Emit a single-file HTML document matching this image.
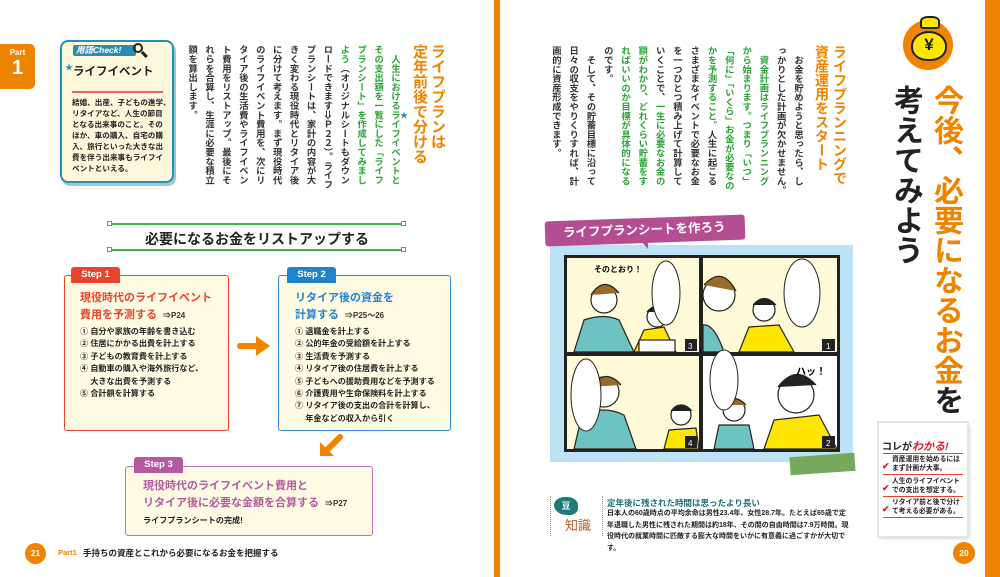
<!DOCTYPE html>
<html><head><meta charset="utf-8"><style>
*{margin:0;padding:0;box-sizing:border-box}
body{width:1000px;height:577px;position:relative;background:#fff;overflow:hidden;font-family:"Liberation Sans","Noto Sans CJK JP",sans-serif;color:#222}
.a{position:absolute}
.v{writing-mode:vertical-rl;white-space:nowrap}
.g{color:#2aa336;font-weight:bold}
.o{color:#ee8400}
.box{position:absolute;background:#fffbe3;border:1.5px solid;border-radius:3px}
.tab{position:absolute;color:#fff;font-size:9.5px;height:16px;line-height:16px;text-align:center;border-radius:3px 3px 0 0;font-weight:bold}
.st{font-weight:bold;font-size:11px;line-height:17px;position:absolute;white-space:nowrap}
.st small{font-size:8px;color:#333;font-weight:bold;margin-left:6px}
.it{position:absolute;font-size:8.1px;line-height:12.4px;font-weight:bold;color:#222;white-space:nowrap}
</style></head><body>
<div class="a" style="left:494px;top:0;width:6px;height:577px;background:#ee8400"></div>
<div class="a" style="left:985px;top:0;width:15px;height:577px;background:#ee8400"></div>
<div class="a" style="left:0;top:44px;width:35px;height:45px;background:#ee8400;border-radius:0 5px 5px 0;color:#fff;text-align:center;font-weight:bold">
<div style="font-size:8px;margin-top:4px">Part</div><div style="font-size:20px;line-height:22px">1</div></div>

<div class="a" style="left:60px;top:40px;width:114px;height:143px;background:#fdf8dc;border:2px solid #2b8db1;border-radius:8px;box-shadow:2px 3px 0 #9cc7d6"></div>
<div class="a" style="left:73px;top:45px;width:63px;height:11px;background:#2b8db1;color:#fff;font-size:8.5px;font-weight:bold;line-height:11px;padding-left:3px;font-style:italic;border-radius:2px">用語Check!</div>
<div class="a" style="left:133px;top:43px;width:10px;height:10px;border:2.5px solid #222;border-radius:50%"></div>
<div class="a" style="left:141px;top:53px;width:7px;height:2.5px;background:#222;transform:rotate(45deg)"></div>
<div class="a" style="left:65px;top:62px;font-size:8px;color:#2b8db1">★</div>
<div class="a" style="left:73px;top:63px;font-size:11.5px;font-weight:bold">ライフイベント</div>
<div class="a" style="left:72px;top:91px;width:91px;height:1.5px;background:#e86060"></div>
<div class="a" style="left:72px;top:97px;font-size:7.6px;line-height:11px;font-weight:bold;white-space:nowrap">結婚、出産、子どもの進学、<br>リタイアなど、人生の節目<br>となる出来事のこと。その<br>ほか、車の購入、自宅の購<br>入、旅行といった大きな出<br>費を伴う出来事もライフイ<br>ベントといえる。</div>

<div class="a v o" style="right:554px;top:44px;font-size:15px;line-height:18px;font-weight:bold">ライフプランは<br>定年前後で分ける</div>
<div class="a" style="left:400px;top:110px;font-size:8px;color:#2b8db1">★</div>
<div class="a v" style="right:597px;top:45px;font-size:9.3px;line-height:16.9px;font-weight:bold;color:#333"><span class="g">　人生におけるライフイベントと<br>その支出額を一覧にした「ライフ<br>プランシート」を作成してみまし<br>よう</span>（オリジナルシートもダウン<br>ロードできます⇒Ｐ２２）。ライフ<br>プランシートは、家計の内容が大<br>きく変わる現役時代とリタイア後<br>に分けて考えます。まず現役時代<br>のライフイベント費用を、次にリ<br>タイア後の生活費やライフイベン<br>ト費用をリストアップ。最後にそ<br>れらを合算し、生涯に必要な積立<br>額を算出します。</div>

<div class="a" style="left:110px;top:223px;width:294px;height:2px;background:#3cb44a"></div>
<div class="a" style="left:110px;top:249px;width:294px;height:2px;background:#3cb44a"></div>
<div class="a" style="left:107px;top:221px;width:5px;height:5px;border:1px solid #3cb44a;background:#fff"></div>
<div class="a" style="left:401px;top:221px;width:5px;height:5px;border:1px solid #3cb44a;background:#fff"></div>
<div class="a" style="left:107px;top:247px;width:5px;height:5px;border:1px solid #3cb44a;background:#fff"></div>
<div class="a" style="left:401px;top:247px;width:5px;height:5px;border:1px solid #3cb44a;background:#fff"></div>
<div class="a" style="left:110px;top:229px;width:294px;text-align:center;font-size:14px;font-weight:bold">必要になるお金をリストアップする</div>

<div class="box" style="left:64px;top:275px;width:165px;height:156px;border-color:#e8452c"></div>
<div class="tab" style="left:71px;top:267px;width:49px;background:#e8452c">Step 1</div>
<div class="st" style="left:80px;top:290px;color:#e8452c">現役時代のライフイベント<br>費用を予測する<small>⇒P24</small></div>
<div class="it" style="left:80px;top:326px">① 自分や家族の年齢を書き込む<br>② 住居にかかる出費を計上する<br>③ 子どもの教育費を計上する<br>④ 自動車の購入や海外旅行など、<br>　 大きな出費を予測する<br>⑤ 合計額を計算する</div>
<div class="a" style="left:237px;top:343px;width:22px;height:6px;background:#ee8400;border-radius:3px"></div>
<div class="a" style="left:256px;top:336px;width:0;height:0;border-left:14px solid #ee8400;border-top:10px solid transparent;border-bottom:10px solid transparent"></div>

<div class="box" style="left:278px;top:275px;width:173px;height:156px;border-color:#2b8fd6"></div>
<div class="tab" style="left:287px;top:267px;width:49px;background:#1f83cf">Step 2</div>
<div class="st" style="left:295px;top:290px;color:#1f83cf">リタイア後の資金を<br>計算する<small>⇒P25～26</small></div>
<div class="it" style="left:295px;top:326px">① 退職金を計上する<br>② 公的年金の受給額を計上する<br>③ 生活費を予測する<br>④ リタイア後の住居費を計上する<br>⑤ 子どもへの援助費用などを予測する<br>⑥ 介護費用や生命保険料を計上する<br>⑦ リタイア後の支出の合計を計算し、<br>　 年金などの収入から引く</div>
<svg class="a" style="left:316px;top:434px" width="28" height="24"><path d="M24 3 L10 17" stroke="#ee8400" stroke-width="6" stroke-linecap="round"/><path d="M4 8 L4 22 L18 22 Z" fill="#ee8400"/></svg>

<div class="box" style="left:125px;top:466px;width:248px;height:70px;border-color:#c872b4"></div>
<div class="tab" style="left:134px;top:457px;width:49px;background:#b55aa0">Step 3</div>
<div class="st" style="left:143px;top:478px;color:#b55aa0">現役時代のライフイベント費用と<br>リタイア後に必要な金額を合算する<small>⇒P27</small></div>
<div class="it" style="left:143px;top:515px">ライフプランシートの完成!</div>

<div class="a" style="left:25px;top:543px;width:21px;height:21px;border-radius:50%;background:#ee8400;color:#fff;font-size:8.5px;font-weight:bold;text-align:center;line-height:21px">21</div>
<div class="a" style="left:58px;top:548px;font-size:7.5px;font-weight:bold;color:#ee8400">Part1</div>
<div class="a" style="left:83px;top:547px;font-size:8.5px;font-weight:bold">手持ちの資産とこれから必要になるお金を把握する</div>

<div class="a v o" style="right:151px;top:45px;font-size:14px;line-height:18px;font-weight:bold">ライフプランニングで<br>資産運用をスタート</div>
<div class="a v" style="right:194px;top:46px;font-size:9.3px;line-height:17.3px;font-weight:bold;color:#333">　お金を貯めようと思ったら、し<br>っかりとした計画が欠かせません。<br><span class="g">　資金計画はライフプランニング<br>から始まります。つまり「いつ」<br>「何に」「いくら」お金が必要なの<br>かを予測すること。</span>人生に起こる<br>さまざまなイベントで必要なお金<br>を一つひとつ積み上げて計算して<br>いくことで、<span class="g">一生に必要なお金の<br>額がわかり、どれくらい貯蓄をす<br>ればいいのか目標が具体的になる</span><br>のです。<br>　そして、その貯蓄目標に沿って<br>日々の収支をやりくりすれば、計<br>画的に資産形成できます。</div>

<div class="a" style="left:903px;top:20px;width:50px;height:50px;border-radius:50%;background:#ee8400"></div>
<div class="a" style="left:911px;top:31px;width:36px;height:30px;border-radius:50% 50% 45% 45%;background:#ffe600;border:2px solid #222"></div>
<div class="a" style="left:920px;top:16px;width:20px;height:13px;background:#ffe600;border:2px solid #222;border-radius:40% 40% 20% 20%"></div>
<div class="a" style="left:911px;top:35px;width:36px;text-align:center;font-size:17px;font-weight:bold;color:#222">¥</div>

<div class="a v" style="right:35px;top:85px;font-size:30px;line-height:40px;font-weight:bold"><span class="o">今後、必要になるお金</span>を<br>考えてみよう</div>

<div class="a" style="left:550px;top:245px;width:303px;height:217px;background:#bde2f6"></div>
<div class="a" style="left:545px;top:218px;width:200px;height:25px;background:#b54d93;transform:rotate(-2deg);border-radius:3px;color:#fff;font-size:12.5px;font-weight:bold;line-height:25px;padding-left:18px">ライフプランシートを作ろう</div>
<div class="a" style="left:640px;top:240px;width:0;height:0;border-top:9px solid #b54d93;border-left:8px solid transparent"></div>
<svg class="a" style="left:564px;top:255px" width="276" height="197">
<rect x="0" y="0" width="276" height="197" fill="#222"/>
<rect x="3" y="3" width="132" height="94" fill="#fffbd8"/>
<rect x="139" y="3" width="134" height="94" fill="#fffbd8"/>
<rect x="3" y="101" width="132" height="93" fill="#fffbd8"/>
<rect x="139" y="101" width="134" height="93" fill="#fff"/>
<g stroke="#222" stroke-width="1.2">
<path d="M10 97 L20 65 Q40 58 55 65 L70 97Z" fill="#6cc3c1"/><circle cx="40" cy="45" r="13" fill="#fff"/><path d="M27 40 Q40 20 55 38" fill="#9a6a2a"/>
<path d="M70 97 L80 75 L100 72 L112 97Z" fill="#ffe600"/><circle cx="93" cy="62" r="10" fill="#fff"/><path d="M83 57 Q93 45 104 57" fill="#222"/>
<rect x="75" y="85" width="36" height="12" fill="#fff"/>
<path d="M139 97 L139 70 Q150 68 160 97Z" fill="#6cc3c1"/><circle cx="155" cy="40" r="16" fill="#fff"/><path d="M140 30 Q158 10 172 36" fill="#9a6a2a"/>
<path d="M175 97 L185 72 L215 70 L230 97Z" fill="#ffe600"/><circle cx="200" cy="55" r="11" fill="#fff"/><path d="M189 50 Q200 37 212 50" fill="#222"/>
<path d="M10 194 L18 160 Q40 150 60 160 L72 194Z" fill="#6cc3c1"/><circle cx="40" cy="137" r="15" fill="#fff"/><path d="M25 132 Q42 112 57 130" fill="#9a6a2a"/>
<path d="M100 194 L105 175 L132 173 L135 194Z" fill="#ffe600"/><circle cx="117" cy="160" r="10" fill="#fff"/><path d="M107 156 Q117 144 128 156" fill="#222"/>
<path d="M150 194 L155 170 L185 170 L190 194Z" fill="#6cc3c1"/><circle cx="170" cy="155" r="11" fill="#fff"/><path d="M159 150 Q170 137 182 150" fill="#9a6a2a"/>
<path d="M200 194 L210 165 L255 160 L273 194Z" fill="#ffe600"/><circle cx="232" cy="140" r="18" fill="#fff"/><path d="M214 132 Q232 108 252 130" fill="#222"/>
</g>
<g fill="#fff" stroke="#222"><ellipse cx="102" cy="38" rx="14" ry="32"/><ellipse cx="238" cy="38" rx="18" ry="34"/><ellipse cx="22" cy="140" rx="15" ry="36"/><ellipse cx="160" cy="125" rx="14" ry="30"/></g>
<text x="30" y="17" font-size="8" font-weight="bold" font-family="Liberation Sans,Noto Sans CJK JP,sans-serif">そのとおり！</text>
<text x="232" y="120" font-size="10" font-weight="bold" font-family="Liberation Sans,Noto Sans CJK JP,sans-serif">ハッ！</text>
<g fill="#222"><rect x="121" y="84" width="12" height="12"/><rect x="258" y="84" width="13" height="12"/><rect x="121" y="181" width="12" height="12"/><rect x="258" y="181" width="13" height="12"/></g>
<g fill="#fff" font-size="8" font-family="Liberation Sans,sans-serif"><text x="124" y="94">3</text><text x="262" y="94">1</text><text x="124" y="191">4</text><text x="262" y="191">2</text></g>
</svg>
<div class="a" style="left:790px;top:455px;width:65px;height:18px;background:#76a95e;transform:rotate(-4deg)"></div>

<div class="a" style="left:550px;top:496px;height:40px;border-left:1px dotted #999"></div>
<div class="a" style="left:602px;top:496px;height:40px;border-left:1px dotted #999"></div>
<div class="a" style="left:554px;top:497px;width:24px;height:18px;background:#1e7b78;border-radius:50% 50% 40% 60%;color:#fff;font-size:9px;font-weight:bold;text-align:center;line-height:18px">豆</div>
<div class="a" style="left:565px;top:515px;font-size:13px;color:#b65a2a">知識</div>
<div class="a" style="left:607px;top:497px;font-size:8.5px;font-weight:bold;color:#1e6f7a">定年後に残された時間は思ったより長い</div>
<div class="a" style="left:607px;top:508px;width:245px;font-size:7px;line-height:11.5px;font-weight:bold">日本人の60歳時点の平均余命は男性23.4年、女性28.7年。たとえば65歳で定年退職した男性に残された期間は約18年、その間の自由時間は7.9万時間。現役時代の就業時間に匹敵する膨大な時間をいかに有意義に過ごすかが大切です。</div>

<div class="a" style="left:879px;top:423px;width:88px;height:113px;background:#fff;box-shadow:0 0 0 2px #e4e4e4,2px 2px 3px #bbb"></div>
<div class="a" style="left:882px;top:438px;font-size:10px;font-weight:bold">コレが<span style="color:#e8192c;font-style:italic;font-size:11px">わかる!</span></div>
<div class="a" style="left:883px;top:453px;width:80px;height:1.2px;background:#e8452c"></div>
<div class="a" style="left:883px;top:474px;width:80px;height:1.2px;background:#e8452c"></div>
<div class="a" style="left:883px;top:496px;width:80px;height:1.2px;background:#e8452c"></div>
<div class="a" style="left:883px;top:517px;width:80px;height:1.2px;background:#e8452c"></div>
<div class="a" style="left:882px;top:456px;font-size:9px;line-height:21.5px;color:#e8192c;font-weight:bold">✔<br>✔<br>✔</div>
<div class="a" style="left:892px;top:456px;font-size:6.8px;line-height:8.5px;font-weight:bold">資産運用を始めるには<br>まず計画が大事。</div>
<div class="a" style="left:892px;top:478px;font-size:6.8px;line-height:8.5px;font-weight:bold">人生のライフイベント<br>での支出を想定する。</div>
<div class="a" style="left:892px;top:499px;font-size:6.8px;line-height:8.5px;font-weight:bold">リタイア前と後で分け<br>て考える必要がある。</div>

<div class="a" style="left:953px;top:542px;width:22px;height:22px;border-radius:50%;background:#ee8400;color:#fff;font-size:8.5px;font-weight:bold;text-align:center;line-height:22px">20</div>
</body></html>
